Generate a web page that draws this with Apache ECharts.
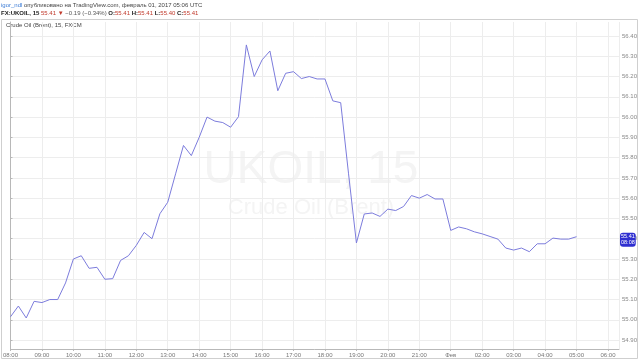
<!DOCTYPE html>
<html><head><meta charset="utf-8">
<script src="https://cdn.jsdelivr.net/npm/echarts@6/dist/echarts.min.js"></script>
<style>html,body{margin:0;padding:0;background:#fff}#c{width:640px;height:360px}</style>
</head><body><div id="c"></div>
<script>
// 15-minute bars, index 0 = 08:00 (Jan 31), session gap 22:00-01:00, last bar = 05:00 (Feb 01)
const tickLabels = ['08:00','09:00','10:00','11:00','12:00','13:00','14:00','15:00','16:00','17:00','18:00','19:00','20:00','21:00','Фев','02:00','03:00','04:00','05:00','06:00'];
const prices = [
  55.015, 55.068, 55.009, 55.091, 55.085, 55.100, 55.100, 55.182, 55.300, 55.316,
  55.254, 55.259, 55.200, 55.203, 55.293, 55.316, 55.367, 55.431, 55.400, 55.523,
  55.580, 55.720, 55.860, 55.810, 55.900, 56.000, 55.980, 55.973, 55.950, 56.002,
  56.356, 56.200, 56.282, 56.326, 56.130, 56.216, 56.224, 56.190, 56.200, 56.188,
  56.188, 56.080, 56.071, 55.720, 55.379, 55.522, 55.527, 55.510, 55.546, 55.539,
  55.559, 55.613, 55.600, 55.618, 55.596, 55.596, 55.441, 55.458, 55.449, 55.434,
  55.424, 55.411, 55.398, 55.354, 55.344, 55.354, 55.336, 55.375, 55.375, 55.403,
  55.398, 55.398, 55.410
];
const priceTicks = [54.9,55.0,55.1,55.2,55.3,55.4,55.5,55.6,55.7,55.8,55.9,56.0,56.1,56.2,56.3,56.4];
const lastPrice = 55.41;
const barsPerLabel = 4;

const chart = echarts.init(document.getElementById('c'), null, {renderer:'canvas'});
const font = 'Arial, "Liberation Sans", sans-serif';
chart.setOption({
  animation:false,
  backgroundColor:'#fff',
  grid:{left:2,right:19,top:22,bottom:11},
  xAxis:{
    type:'value', min:0, max:77.4, interval:barsPerLabel,
    axisLine:{show:true,lineStyle:{color:'#b8b8b8',width:1}},
    axisTick:{show:true,length:2,lineStyle:{color:'#b8b8b8'}},
    axisLabel:{show:true,fontSize:6,color:'#777',margin:3,fontFamily:font,
      alignMinLabel:'center', hideOverlap:false,
      formatter:v=>tickLabels[Math.round(v/barsPerLabel)]||'', showMinLabel:true, showMaxLabel:false},
    splitLine:{show:true,lineStyle:{color:'#ededed',width:1}}
  },
  yAxis:{
    type:'value', position:'right', min:54.856, max:56.469, scale:true,
    axisLine:{show:true,lineStyle:{color:'#b8b8b8',width:1}},
    axisTick:{show:true,length:2,customValues:priceTicks,lineStyle:{color:'#b8b8b8'}},
    axisLabel:{show:true,fontSize:6,color:'#888',margin:3,fontFamily:font,
      customValues:priceTicks, formatter:v=>v.toFixed(2)},
    splitLine:{show:true,lineStyle:{color:'#ededed',width:1}},
    axisPointer:{show:true,value:lastPrice,status:'show',triggerTooltip:false,
      lineStyle:{color:'rgba(0,0,0,0)',width:0},
      label:{show:true,formatter:()=>lastPrice.toFixed(2)+'\n08:08',backgroundColor:'#2f2fd0',color:'#fff',
        fontSize:5.5,fontFamily:font,lineHeight:6,padding:[1,1],margin:1}}
  },
  graphic:[
    {type:'rect',z:-10,shape:{x:1.5,y:19.5,width:636,height:339},style:{fill:'none',stroke:'#cfcfcf',lineWidth:1}},
    {type:'text',z:-5,silent:true,style:{x:311,y:170,text:'UKOIL, 15',fontSize:46,fontFamily:font,fill:'#f4f4f4',align:'center',verticalAlign:'middle'}},
    {type:'text',z:-5,silent:true,style:{x:311,y:208,text:'Crude Oil (Brent)',fontSize:22,fontFamily:font,fill:'#f4f4f4',align:'center',verticalAlign:'middle'}},
    {type:'text',style:{x:6,y:25,text:'Crude Oil (Brent), 15, FXCM',fontSize:6,fontFamily:font,fill:'#444',verticalAlign:'middle'}},
    {type:'text',style:{x:1,y:5,fontSize:6,fontFamily:font,verticalAlign:'middle',
      text:'{a|igor_ndl} {b|опубликовано на TradingView.com, февраль 01, 2017 05:06 UTC}',
      rich:{a:{fill:'#3a7bd5',fontSize:6,fontFamily:font},b:{fill:'#444',fontSize:6,fontFamily:font}}}},
    {type:'text',style:{x:1,y:13,fontSize:6,fontFamily:font,verticalAlign:'middle',
      text:'{k|FX:UKOIL, 15} {r|55.41} {r|▼} {d|−0.19 (−0.34%)} {k|O:}{r|55.41} {k|H:}{r|55.41} {k|L:}{r|55.40} {k|C:}{r|55.41}',
      rich:{k:{fill:'#222',fontWeight:'bold',fontSize:6,fontFamily:font},
            r:{fill:'#c0392b',fontSize:6,fontFamily:font},
            d:{fill:'#555',fontSize:6,fontFamily:font}}}}
  ],
  series:[{
    type:'line', showSymbol:false, symbol:'none',
    data:prices.map((v,i)=>[i,v]),
    lineStyle:{color:'#7c7cdc',width:1}
  }]
});
</script></body></html>
